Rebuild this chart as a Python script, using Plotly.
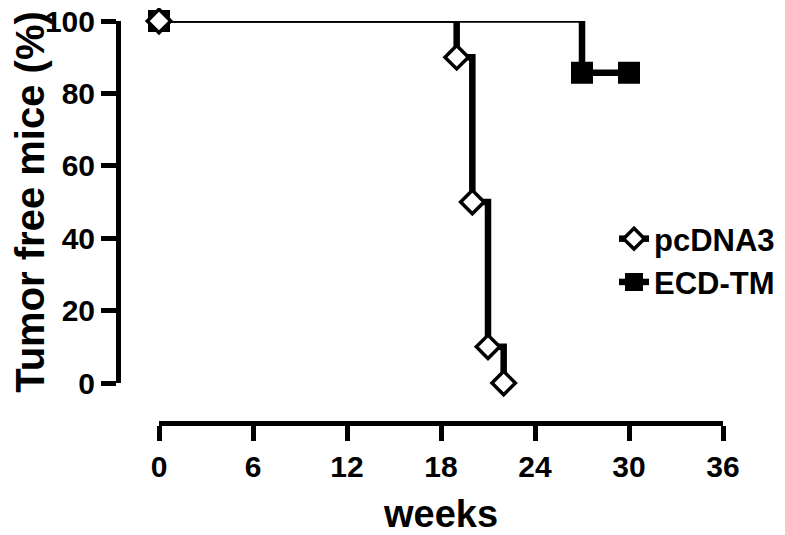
import plotly.graph_objects as go

# ---- data ----
weeks_pc = [0, 19, 20, 21, 22]
free_pc = [100, 90, 50, 10, 0]
weeks_ecd = [0, 27, 30]
free_ecd = [100, 85.7, 85.7]
x_ticks = [0, 6, 12, 18, 24, 30, 36]
y_ticks = [0, 20, 40, 60, 80, 100]
series_names = ["pcDNA3", "ECD-TM"]

FONT = "Liberation Sans, Arial, sans-serif"
# page has an 8px body margin, so the figure is drawn 8px smaller / offset
W, H = 777, 527
L, R, T, B = 110, 62, 13, 112
plot_w = W - L - R
plot_h = H - T - B

fig = go.Figure()

def add_series(wk, fr):
    # thin initial plateau
    fig.add_trace(go.Scatter(x=[wk[0], wk[1]], y=[fr[0], fr[0]], mode="lines",
                             line=dict(color="black", width=3.5), showlegend=False,
                             hoverinfo="skip", cliponaxis=False))
    # thick steps after first event
    fig.add_trace(go.Scatter(x=[wk[1]] + wk[1:], y=[fr[0]] + fr[1:], mode="lines",
                             line=dict(color="black", width=6.5, shape="hv"),
                             showlegend=False, hoverinfo="skip", cliponaxis=False))

add_series(weeks_ecd, free_ecd)
add_series(weeks_pc, free_pc)

sq_marker = dict(symbol="square", size=20, color="black", line=dict(color="black", width=2))
dia_marker = dict(symbol="diamond", size=18, color="white", line=dict(color="black", width=3.5))

fig.add_trace(go.Scatter(x=weeks_ecd, y=free_ecd, mode="markers", marker=sq_marker,
                         showlegend=False, cliponaxis=False))
fig.add_trace(go.Scatter(x=weeks_pc, y=free_pc, mode="markers", marker=dia_marker,
                         showlegend=False, cliponaxis=False))

# legend entries
fig.add_trace(go.Scatter(x=[None], y=[None], mode="lines+markers", name=series_names[0],
                         line=dict(color="black", width=6.5), marker=dia_marker))
fig.add_trace(go.Scatter(x=[None], y=[None], mode="lines+markers", name=series_names[1],
                         line=dict(color="black", width=6.5), marker=sq_marker))

tickfont = dict(family=FONT, size=30, color="black", weight="bold")

fig.update_layout(
    width=W, height=H,
    margin=dict(l=L, r=R, t=T, b=B, autoexpand=False),
    plot_bgcolor="white", paper_bgcolor="white",
    showlegend=True,
    legend=dict(x=(606 - L) / plot_w, xanchor="left", y=(415 - 204) / plot_h, yanchor="top",
                font=dict(family=FONT, size=31, color="black", weight="bold"),
                bgcolor="rgba(0,0,0,0)", tracegroupgap=0),
    xaxis=dict(domain=[(151 - L) / plot_w, 1], range=[0, 36], anchor="free", position=0,
               tickvals=x_ticks, ticks="outside", ticklen=15, tickwidth=5, tickcolor="black",
               showline=True, linewidth=5, linecolor="black", showgrid=False, zeroline=False,
               tickfont=tickfont, automargin=False, ticklabeloverflow="allow",
               title=dict(text="weeks", font=dict(family=FONT, size=38, color="black", weight="bold"),
                          standoff=31)),
    yaxis=dict(domain=[(415 - 375) / plot_h, 1], range=[0, 100], anchor="free", position=0,
               tickvals=y_ticks, ticks="outside", ticklen=15, tickwidth=5, tickcolor="black",
               showline=True, linewidth=5, linecolor="black", showgrid=False, zeroline=False,
               tickfont=tickfont, automargin=False, ticklabeloverflow="allow",
               title=dict(text="Tumor free mice (%)",
                          font=dict(family=FONT, size=40, color="black", weight="bold"),
                          standoff=10)),
)

fig.write_html("out.html")
